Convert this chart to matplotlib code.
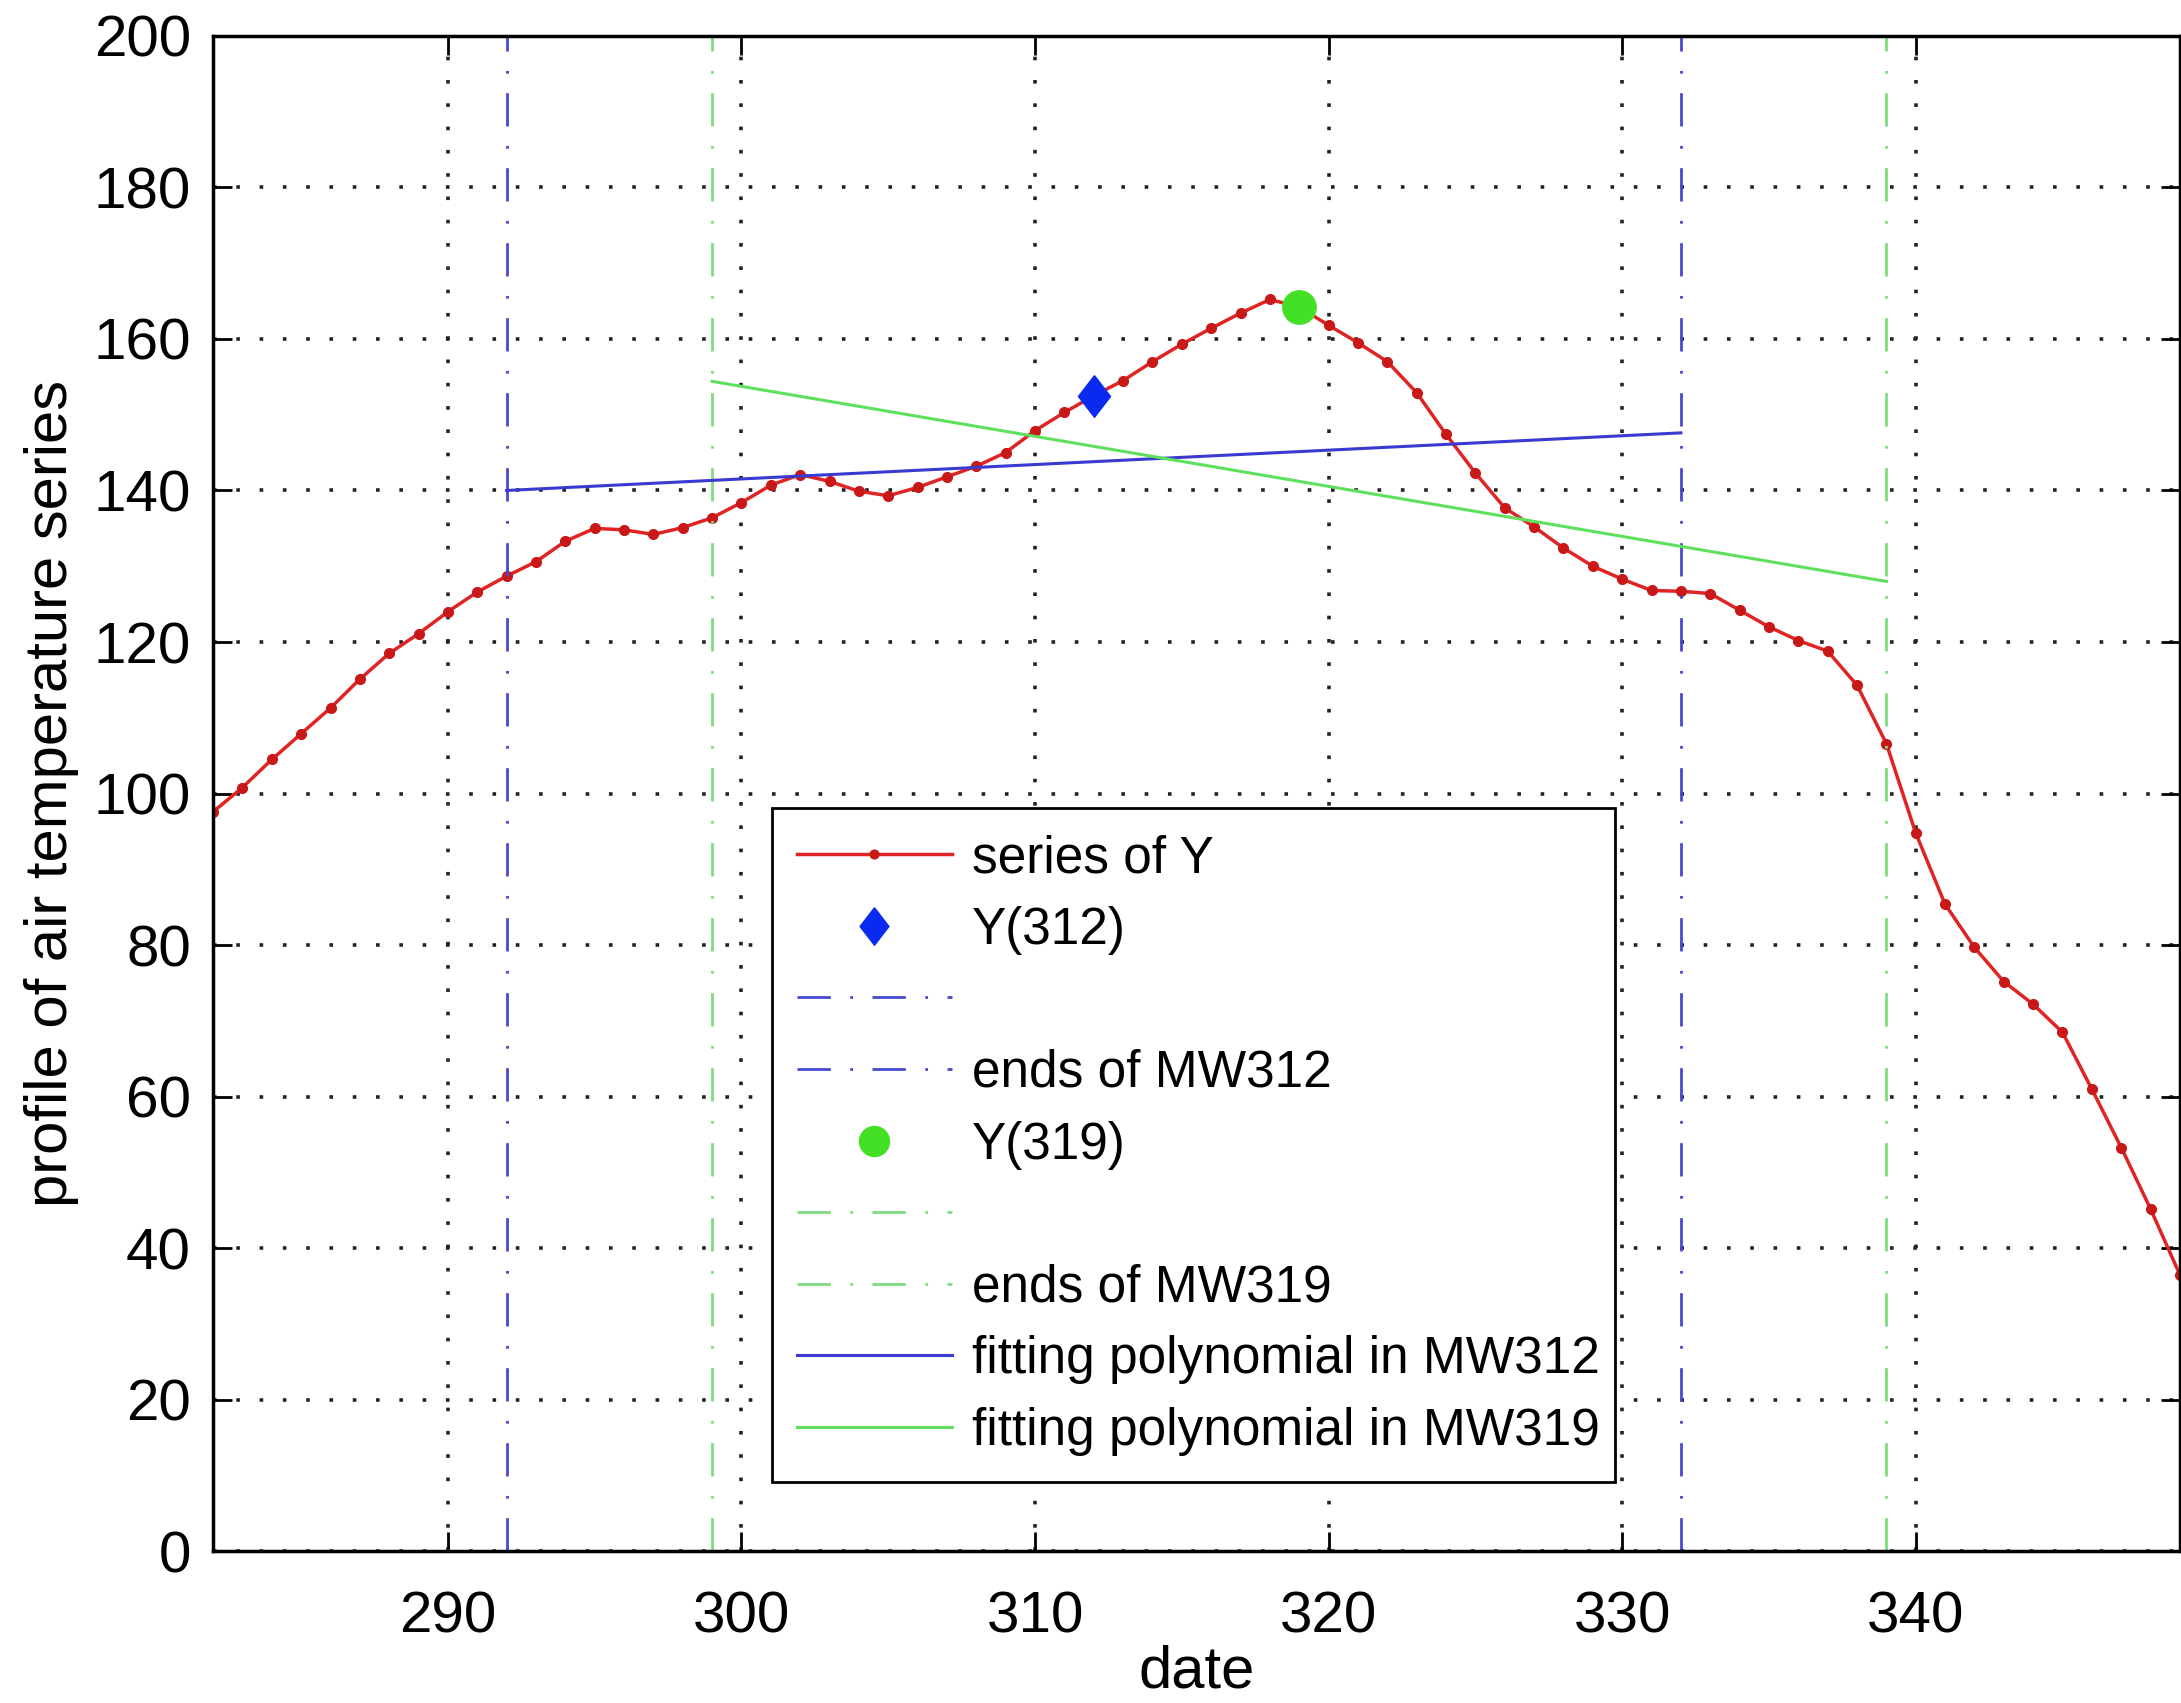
import matplotlib
matplotlib.use("Agg")
import matplotlib.pyplot as plt

# series of Y, one value per day
days = list(range(282, 350))
y_vals = [97.6, 100.8, 104.5, 107.9, 111.3, 115.1, 118.5, 121.1, 124.0, 126.6,
          128.7, 130.6, 133.3, 135.0, 134.8, 134.2, 135.1, 136.4, 138.4, 140.7,
          142.1, 141.2, 139.9, 139.3, 140.4, 141.8, 143.2, 145.0, 147.9, 150.3,
          152.5, 154.5, 157.0, 159.3, 161.4, 163.4, 165.2, 164.2, 161.8, 159.5,
          157.0, 152.9, 147.4, 142.3, 137.7, 135.2, 132.4, 130.0, 128.3, 126.8,
          126.7, 126.4, 124.2, 122.0, 120.2, 118.8, 114.3, 106.6, 94.8, 85.4,
          79.7, 75.2, 72.2, 68.5, 61.0, 53.3, 45.2, 36.5]

# moving windows: ends of each window
mw312_ends = [292, 332]
mw319_ends = [299, 339]
# fitted straight lines in each window (value at start, value at end)
fit312 = [140.0, 147.6]
fit319 = [154.4, 128.0]

x_ticks = [290, 300, 310, 320, 330, 340]
y_ticks = list(range(0, 201, 20))

red = "#e02424"
blue_pt = "#0a2af0"
green_pt = "#44e026"
blue_v = "#4848d0"
green_v = "#80dc80"
blue_fit = "#3a3ad0"
green_fit = "#5ee05e"

plt.rcParams['font.family'] = ['Liberation Sans', 'DejaVu Sans']
fs_tick = 42
fs_label = 43
fs_leg = 37

fig = plt.figure(figsize=(21.81, 17.03), dpi=100)
ax = fig.add_axes([0.0977, 0.089, 0.9018, 0.890])

ax.grid(True, color="#222222", linestyle=(0, (1, 5.45)), linewidth=2.6)
ax.set_axisbelow(True)

dashdot = (0, (12, 7, 1, 7))

h_y, = ax.plot(days, y_vals, color=red, lw=2.5, marker='o', ms=7,
               markerfacecolor="#c81818", markeredgecolor="#c81818")

diamond = [(0, 1), (0.77, 0), (0, -1), (-0.77, 0), (0, 1)]
d312 = y_vals[days.index(312)]
d319 = y_vals[days.index(319)]
h_d, = ax.plot([312], [d312], linestyle='none', marker=diamond, ms=30,
               color=blue_pt, zorder=5)
h_v1 = ax.axvline(mw312_ends[0], color=blue_v, lw=2, linestyle=dashdot)
h_v2 = ax.axvline(mw312_ends[1], color=blue_v, lw=2, linestyle=dashdot)
h_c, = ax.plot([319], [d319], linestyle='none', marker='o', ms=24,
               color=green_pt, zorder=5)
h_g1 = ax.axvline(mw319_ends[0], color=green_v, lw=2, linestyle=dashdot)
h_g2 = ax.axvline(mw319_ends[1], color=green_v, lw=2, linestyle=dashdot)
h_f1, = ax.plot(mw312_ends, fit312, color=blue_fit, lw=2.2)
h_f2, = ax.plot(mw319_ends, fit319, color=green_fit, lw=2.2)

ax.set_xlim(282, 349)
ax.set_ylim(0, 200)
ax.set_xticks(x_ticks)
ax.set_yticks(y_ticks)
ax.tick_params(direction='in', length=14, width=2, labelsize=fs_tick,
               top=True, right=True)
ax.tick_params(axis='x', pad=28)
ax.tick_params(axis='y', pad=16)
for s in ax.spines.values():
    s.set_linewidth(2.5)

ax.set_xlabel("date", fontsize=fs_label, labelpad=0)
ax.set_ylabel("profile of air temperature series", fontsize=fs_label,
              labelpad=10)

handles = [h_y, h_d, h_v1, h_v2, h_c, h_g1, h_g2, h_f1, h_f2]
labels = ["series of Y", "Y(312)", "", "ends of MW312", "Y(319)", "",
          "ends of MW319", "fitting polynomial in MW312",
          "fitting polynomial in MW319"]
leg = ax.legend(handles, labels, loc='lower left',
                bbox_to_anchor=(0.284, 0.046, 0.429, 0.438), mode='expand',
                fontsize=fs_leg, frameon=True, fancybox=False,
                edgecolor='black', framealpha=1, handlelength=3.0,
                handletextpad=0.4, borderpad=0.5, borderaxespad=0,
                labelspacing=0.44, markerscale=0.9)
leg.get_frame().set_linewidth(2)

fig.savefig("out.png", dpi=100)
